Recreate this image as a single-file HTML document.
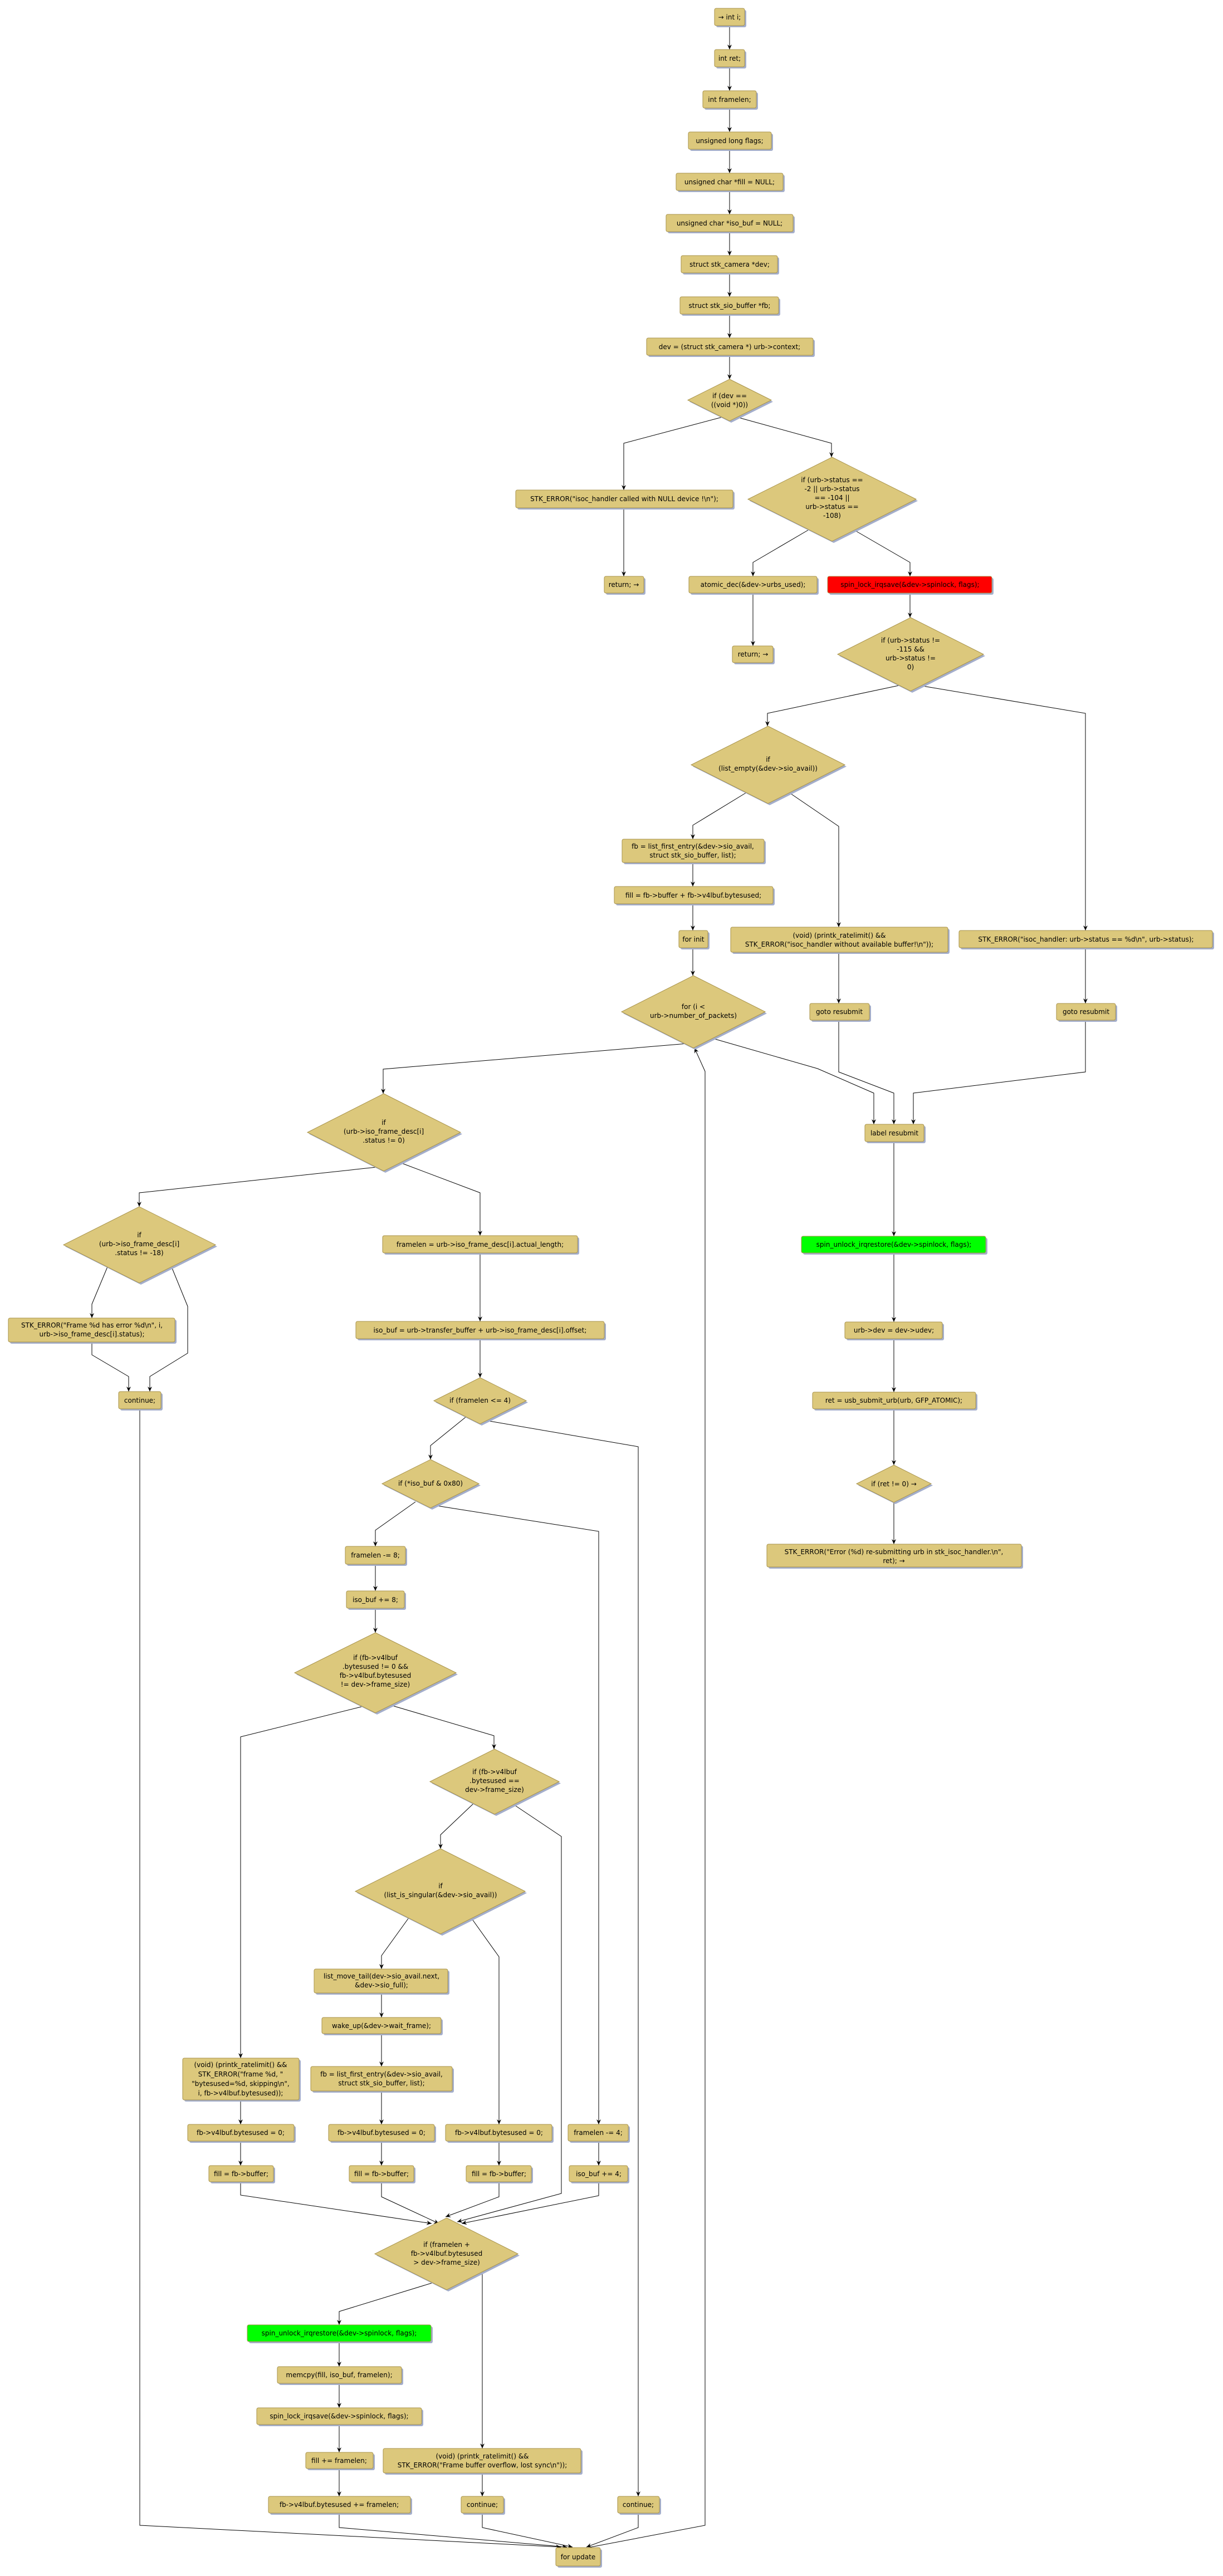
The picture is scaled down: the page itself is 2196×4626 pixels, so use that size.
<!DOCTYPE html>
<html><head><meta charset="utf-8"><style>
html,body{margin:0;padding:0;background:#fff;}
svg{display:block;}
text{font-family:"DejaVu Sans","Liberation Sans",sans-serif;font-size:12px;fill:#000;text-anchor:middle;}
.b{fill:#dcc87c;stroke:#a8934c;stroke-width:1;}
.s{fill:#a4aecb;stroke:none;}
.e{fill:none;stroke:#000;stroke-width:1;marker-end:url(#a);}
.n{fill:none;stroke:#000;stroke-width:1;}
</style></head><body>
<svg width="2196" height="4626" viewBox="0 0 2196 4626" xmlns="http://www.w3.org/2000/svg">
<defs><marker id="a" markerWidth="10" markerHeight="10" refX="9" refY="4" orient="auto" markerUnits="userSpaceOnUse"><path d="M0,0 L9,4 L0,8 L3,4 Z" fill="#000"/></marker></defs>

<g id="edges">
<polyline class="e" points="1310,46 1310,89"/>
<polyline class="e" points="1310,120 1310,163"/>
<polyline class="e" points="1310,194 1310,237"/>
<polyline class="e" points="1310,268 1310,311"/>
<polyline class="e" points="1310,342 1310,385"/>
<polyline class="e" points="1310,416 1310,459"/>
<polyline class="e" points="1310,490 1310,533"/>
<polyline class="e" points="1310,564 1310,607"/>
<polyline class="e" points="1310,638 1310,681"/>
<polyline class="e" points="1297,749 1120,796 1120,880"/>
<polyline class="e" points="1323,749 1493,796 1493,821"/>
<polyline class="e" points="1120,912 1120,1035"/>
<polyline class="e" points="1451,952 1352,1010 1352,1035"/>
<polyline class="e" points="1534,952 1634,1010 1634,1035"/>
<polyline class="e" points="1352,1065 1352,1160"/>
<polyline class="e" points="1634,1065 1634,1109"/>
<polyline class="e" points="1614,1231 1378,1281 1378,1304"/>
<polyline class="e" points="1651,1231 1949,1281 1949,1671"/>
<polyline class="e" points="1339,1424 1244,1482 1244,1507"/>
<polyline class="e" points="1418,1424 1506,1484 1506,1665"/>
<polyline class="e" points="1244,1549 1244,1592"/>
<polyline class="e" points="1244,1623 1244,1671"/>
<polyline class="e" points="1244,1702 1244,1752"/>
<polyline class="e" points="1506,1710 1506,1802"/>
<polyline class="e" points="1949,1702 1949,1802"/>
<polyline class="e" points="1277,1864 1468,1919 1569,1963 1569,2019"/>
<polyline class="e" points="1506,1832 1506,1925 1605,1963 1605,2019"/>
<polyline class="e" points="1949,1832 1949,1925 1640,1963 1640,2019"/>
<polyline class="e" points="1605,2050 1605,2220"/>
<polyline class="e" points="1605,2250 1605,2374"/>
<polyline class="e" points="1605,2404 1605,2500"/>
<polyline class="e" points="1605,2530 1605,2631"/>
<polyline class="e" points="1605,2698 1605,2773"/>
<polyline class="e" points="1234,1874 688,1920 688,1964"/>
<polyline class="e" points="1061,4574 1266,4535 1266,1924 1247,1882"/>
<polyline class="e" points="676,2096 250,2142 250,2167"/>
<polyline class="e" points="719,2088 862,2142 862,2219"/>
<polyline class="e" points="193,2275 165,2342 165,2367"/>
<polyline class="e" points="308,2275 337,2346 337,2430 269,2472 269,2499"/>
<polyline class="e" points="165,2410 165,2433 231,2472 231,2499"/>
<polyline class="e" points="251,2530 251,4535 1007,4574"/>
<polyline class="e" points="862,2250 862,2373"/>
<polyline class="e" points="862,2404 862,2474"/>
<polyline class="e" points="873,2551 1146,2598 1146,4483"/>
<polyline class="e" points="836,2545 773,2596 773,2621"/>
<polyline class="e" points="784,2704 1075,2750 1075,3815"/>
<polyline class="e" points="746,2697 674,2748 674,2777"/>
<polyline class="e" points="674,2809 674,2857"/>
<polyline class="e" points="674,2888 674,2932"/>
<polyline class="e" points="649,3065 432,3119 432,3696"/>
<polyline class="e" points="701,3062 887,3117 887,3141"/>
<polyline class="e" points="920,3239 1008,3298 1008,3939 821,3990"/>
<polyline class="e" points="850,3239 791,3295 791,3320"/>
<polyline class="e" points="734,3444 685,3512 685,3536"/>
<polyline class="e" points="846,3444 896,3514 896,3815"/>
<polyline class="e" points="685,3579 685,3623"/>
<polyline class="e" points="685,3652 685,3711"/>
<polyline class="e" points="685,3755 685,3815"/>
<polyline class="e" points="685,3845 685,3889"/>
<polyline class="e" points="432,3771 432,3815"/>
<polyline class="e" points="432,3845 432,3889"/>
<polyline class="e" points="896,3845 896,3889"/>
<polyline class="e" points="1075,3845 1075,3889"/>
<polyline class="e" points="432,3918 432,3942 775,3993"/>
<polyline class="e" points="685,3918 685,3945 788,3993"/>
<polyline class="e" points="896,3918 896,3945 800,3981"/>
<polyline class="e" points="1075,3918 1075,3943 829,3993"/>
<polyline class="e" points="775,4100 609,4151 609,4175"/>
<polyline class="e" points="866,4078 866,4397"/>
<polyline class="e" points="609,4205 609,4250"/>
<polyline class="e" points="609,4280 609,4324"/>
<polyline class="e" points="609,4354 609,4404"/>
<polyline class="e" points="609,4433 609,4483"/>
<polyline class="e" points="866,4441 866,4483"/>
<polyline class="e" points="609,4513 609,4539 1018,4574"/>
<polyline class="e" points="866,4513 866,4539 1028,4574"/>
<polyline class="e" points="1146,4513 1146,4539 1053,4574"/>
</g>

<g id="nodes">
<!-- boxes: shadow then box -->
<rect class="s" x="1286" y="18" width="54" height="31" rx="3"/><rect class="b" x="1283" y="15" width="54" height="31" rx="3"/><text x="1310" y="35">→ int i;</text>
<rect class="s" x="1286" y="92" width="54" height="31" rx="3"/><rect class="b" x="1283" y="89" width="54" height="31" rx="3"/><text x="1310" y="109">int ret;</text>
<rect class="s" x="1265" y="166" width="96" height="31" rx="3"/><rect class="b" x="1262" y="163" width="96" height="31" rx="3"/><text x="1310" y="183">int framelen;</text>
<rect class="s" x="1239" y="240" width="149" height="31" rx="3"/><rect class="b" x="1236" y="237" width="149" height="31" rx="3"/><text x="1310" y="257">unsigned long flags;</text>
<rect class="s" x="1217" y="314" width="192" height="31" rx="3"/><rect class="b" x="1214" y="311" width="192" height="31" rx="3"/><text x="1310" y="331">unsigned char *fill = NULL;</text>
<rect class="s" x="1199" y="388" width="228" height="31" rx="3"/><rect class="b" x="1196" y="385" width="228" height="31" rx="3"/><text x="1310" y="405">unsigned char *iso_buf = NULL;</text>
<rect class="s" x="1226" y="462" width="173" height="31" rx="3"/><rect class="b" x="1223" y="459" width="173" height="31" rx="3"/><text x="1310" y="479">struct stk_camera *dev;</text>
<rect class="s" x="1224" y="536" width="177" height="31" rx="3"/><rect class="b" x="1221" y="533" width="177" height="31" rx="3"/><text x="1310" y="553">struct stk_sio_buffer *fb;</text>
<rect class="s" x="1164" y="610" width="299" height="31" rx="3"/><rect class="b" x="1161" y="607" width="299" height="31" rx="3"/><text x="1310" y="627">dev = (struct stk_camera *) urb-&gt;context;</text>

<polygon class="s" points="1313,684 1388,721.5 1313,759 1238,721.5"/><polygon class="b" points="1310,681 1385,718.5 1310,756 1235,718.5"/>
<text x="1310" y="715">if (dev ==</text><text x="1310" y="731">((void *)0))</text>

<rect class="s" x="929" y="883" width="390" height="32" rx="3"/><rect class="b" x="926" y="880" width="390" height="32" rx="3"/><text x="1121" y="900">STK_ERROR("isoc_handler called with NULL device !\n");</text>
<rect class="s" x="1088" y="1038" width="71" height="30" rx="3"/><rect class="b" x="1085" y="1035" width="71" height="30" rx="3"/><text x="1120" y="1054">return; →</text>

<polygon class="s" points="1497,824 1648,899.5 1497,975 1346,899.5"/><polygon class="b" points="1494,821 1645,896.5 1494,972 1343,896.5"/>
<text x="1494" y="866">if (urb-&gt;status ==</text><text x="1494" y="882">-2 || urb-&gt;status</text><text x="1494" y="898">== -104 ||</text><text x="1494" y="914">urb-&gt;status ==</text><text x="1494" y="930">-108)</text>

<rect class="s" x="1240" y="1038" width="230" height="30" rx="3"/><rect class="b" x="1237" y="1035" width="230" height="30" rx="3"/><text x="1352" y="1054">atomic_dec(&amp;dev-&gt;urbs_used);</text>
<rect class="s" x="1489" y="1038" width="295" height="30" rx="3"/><rect fill="#ff0000" stroke="#a8934c" x="1486" y="1035" width="295" height="30" rx="3"/><text x="1634" y="1054">spin_lock_irqsave(&amp;dev-&gt;spinlock, flags);</text>
<rect class="s" x="1318" y="1163" width="73" height="30" rx="3"/><rect class="b" x="1315" y="1160" width="73" height="30" rx="3"/><text x="1352" y="1179">return; →</text>

<polygon class="s" points="1638,1112 1769,1178 1638,1244 1507,1178"/><polygon class="b" points="1635,1109 1766,1175 1635,1241 1504,1175"/>
<text x="1635" y="1154">if (urb-&gt;status !=</text><text x="1635" y="1170">-115 &amp;&amp;</text><text x="1635" y="1186">urb-&gt;status !=</text><text x="1635" y="1202">0)</text>

<polygon class="s" points="1382,1307 1520,1376.5 1382,1446 1244,1376.5"/><polygon class="b" points="1379,1304 1517,1373.5 1379,1443 1241,1373.5"/>
<text x="1379" y="1368">if</text><text x="1379" y="1384">(list_empty(&amp;dev-&gt;sio_avail))</text>

<rect class="s" x="1120" y="1510" width="255" height="42" rx="3"/><rect class="b" x="1117" y="1507" width="255" height="42" rx="3"/><text x="1244" y="1524">fb = list_first_entry(&amp;dev-&gt;sio_avail,</text><text x="1244" y="1540">struct stk_sio_buffer, list);</text>
<rect class="s" x="1106" y="1595" width="285" height="31" rx="3"/><rect class="b" x="1103" y="1592" width="285" height="31" rx="3"/><text x="1245" y="1612">fill = fb-&gt;buffer + fb-&gt;v4lbuf.bytesused;</text>
<rect class="s" x="1222" y="1674" width="52" height="31" rx="3"/><rect class="b" x="1219" y="1671" width="52" height="31" rx="3"/><text x="1245" y="1691">for init</text>
<rect class="s" x="1315" y="1668" width="390" height="45" rx="3"/><rect class="b" x="1312" y="1665" width="390" height="45" rx="3"/><text x="1507" y="1684">(void) (printk_ratelimit() &amp;&amp;</text><text x="1507" y="1700">STK_ERROR("isoc_handler without available buffer!\n"));</text>
<rect class="s" x="1725" y="1674" width="455" height="31" rx="3"/><rect class="b" x="1722" y="1671" width="455" height="31" rx="3"/><text x="1950" y="1691">STK_ERROR("isoc_handler: urb-&gt;status == %d\n", urb-&gt;status);</text>

<polygon class="s" points="1248,1755 1377,1820 1248,1885 1119,1820"/><polygon class="b" points="1245,1752 1374,1817 1245,1882 1116,1817"/>
<text x="1245" y="1812">for (i &lt;</text><text x="1245" y="1828">urb-&gt;number_of_packets)</text>

<rect class="s" x="1457" y="1805" width="107" height="30" rx="3"/><rect class="b" x="1454" y="1802" width="107" height="30" rx="3"/><text x="1507" y="1821">goto resubmit</text>
<rect class="s" x="1900" y="1805" width="106" height="30" rx="3"/><rect class="b" x="1897" y="1802" width="106" height="30" rx="3"/><text x="1950" y="1821">goto resubmit</text>
<rect class="s" x="1556" y="2022" width="106" height="31" rx="3"/><rect class="b" x="1553" y="2019" width="106" height="31" rx="3"/><text x="1606" y="2039">label resubmit</text>
<rect class="s" x="1442" y="2223" width="331" height="30" rx="3"/><rect fill="#00ff00" stroke="#a8934c" x="1439" y="2220" width="331" height="30" rx="3"/><text x="1605" y="2239">spin_unlock_irqrestore(&amp;dev-&gt;spinlock, flags);</text>
<rect class="s" x="1520" y="2377" width="175" height="30" rx="3"/><rect class="b" x="1517" y="2374" width="175" height="30" rx="3"/><text x="1605" y="2393">urb-&gt;dev = dev-&gt;udev;</text>
<rect class="s" x="1462" y="2503" width="293" height="30" rx="3"/><rect class="b" x="1459" y="2500" width="293" height="30" rx="3"/><text x="1605" y="2519">ret = usb_submit_urb(urb, GFP_ATOMIC);</text>
<polygon class="s" points="1608,2634 1675,2667.5 1608,2701 1541,2667.5"/><polygon class="b" points="1605,2631 1672,2664.5 1605,2698 1538,2664.5"/>
<text x="1605" y="2669">if (ret != 0) →</text>
<rect class="s" x="1380" y="2776" width="457" height="41" rx="3"/><rect class="b" x="1377" y="2773" width="457" height="41" rx="3"/><text x="1605" y="2791">STK_ERROR("Error (%d) re-submitting urb in stk_isoc_handler.\n",</text><text x="1605" y="2807">ret); →</text>

<polygon class="s" points="692,1967 830,2036.5 692,2106 555,2036.5"/><polygon class="b" points="689,1964 827,2033.5 689,2103 552,2033.5"/>
<text x="689" y="2020">if</text><text x="689" y="2036">(urb-&gt;iso_frame_desc[i]</text><text x="689" y="2052">.status != 0)</text>

<polygon class="s" points="253,2170 390,2238.5 253,2307 117,2238.5"/><polygon class="b" points="250,2167 387,2235.5 250,2304 114,2235.5"/>
<text x="250" y="2222">if</text><text x="250" y="2238">(urb-&gt;iso_frame_desc[i]</text><text x="250" y="2254">.status != -18)</text>

<rect class="s" x="18" y="2370" width="299" height="43" rx="3"/><rect class="b" x="15" y="2367" width="299" height="43" rx="3"/><text x="165" y="2384">STK_ERROR("Frame %d has error %d\n", i,</text><text x="165" y="2400">urb-&gt;iso_frame_desc[i].status);</text>
<rect class="s" x="216" y="2502" width="76" height="31" rx="3"/><rect class="b" x="213" y="2499" width="76" height="31" rx="3"/><text x="251" y="2519">continue;</text>

<rect class="s" x="690" y="2222" width="350" height="31" rx="3"/><rect class="b" x="687" y="2219" width="350" height="31" rx="3"/><text x="862" y="2239">framelen = urb-&gt;iso_frame_desc[i].actual_length;</text>
<rect class="s" x="642" y="2376" width="446" height="31" rx="3"/><rect class="b" x="639" y="2373" width="446" height="31" rx="3"/><text x="862" y="2393">iso_buf = urb-&gt;transfer_buffer + urb-&gt;iso_frame_desc[i].offset;</text>

<polygon class="s" points="865,2477 948,2518.5 865,2560 782,2518.5"/><polygon class="b" points="862,2474 945,2515.5 862,2557 779,2515.5"/>
<text x="862" y="2519">if (framelen &lt;= 4)</text>
<polygon class="s" points="776,2624 863,2667.5 776,2711 689,2667.5"/><polygon class="b" points="773,2621 860,2664.5 773,2708 686,2664.5"/>
<text x="773" y="2668">if (*iso_buf &amp; 0x80)</text>

<rect class="s" x="623" y="2780" width="108" height="32" rx="3"/><rect class="b" x="620" y="2777" width="108" height="32" rx="3"/><text x="674" y="2797">framelen -= 8;</text>
<rect class="s" x="625" y="2860" width="104" height="31" rx="3"/><rect class="b" x="622" y="2857" width="104" height="31" rx="3"/><text x="674" y="2877">iso_buf += 8;</text>

<polygon class="s" points="677,2935 822,3007 677,3079 532,3007"/><polygon class="b" points="674,2932 819,3004 674,3076 529,3004"/>
<text x="674" y="2981">if (fb-&gt;v4lbuf</text><text x="674" y="2997">.bytesused != 0 &amp;&amp;</text><text x="674" y="3013">fb-&gt;v4lbuf.bytesused</text><text x="674" y="3029">!= dev-&gt;frame_size)</text>

<polygon class="s" points="891,3144 1007,3202.5 891,3261 775,3202.5"/><polygon class="b" points="888,3141 1004,3199.5 888,3258 772,3199.5"/>
<text x="888" y="3186">if (fb-&gt;v4lbuf</text><text x="888" y="3202">.bytesused ==</text><text x="888" y="3218">dev-&gt;frame_size)</text>

<polygon class="s" points="794,3323 946,3399.5 794,3476 641,3399.5"/><polygon class="b" points="791,3320 943,3396.5 791,3473 638,3396.5"/>
<text x="791" y="3391">if</text><text x="791" y="3407">(list_is_singular(&amp;dev-&gt;sio_avail))</text>

<rect class="s" x="567" y="3539" width="240" height="43" rx="3"/><rect class="b" x="564" y="3536" width="240" height="43" rx="3"/><text x="685" y="3553">list_move_tail(dev-&gt;sio_avail.next,</text><text x="685" y="3569">&amp;dev-&gt;sio_full);</text>
<rect class="s" x="581" y="3626" width="214" height="29" rx="3"/><rect class="b" x="578" y="3623" width="214" height="29" rx="3"/><text x="685" y="3642">wake_up(&amp;dev-&gt;wait_frame);</text>
<rect class="s" x="561" y="3714" width="254" height="44" rx="3"/><rect class="b" x="558" y="3711" width="254" height="44" rx="3"/><text x="685" y="3729">fb = list_first_entry(&amp;dev-&gt;sio_avail,</text><text x="685" y="3745">struct stk_sio_buffer, list);</text>
<rect class="s" x="331" y="3699" width="209" height="75" rx="3"/><rect class="b" x="328" y="3696" width="209" height="75" rx="3"/><text x="432" y="3712">(void) (printk_ratelimit() &amp;&amp;</text><text x="432" y="3729">STK_ERROR("frame %d, "</text><text x="432" y="3746">"bytesused=%d, skipping\n",</text><text x="432" y="3763">i, fb-&gt;v4lbuf.bytesused));</text>

<rect class="s" x="340" y="3818" width="191" height="30" rx="3"/><rect class="b" x="337" y="3815" width="191" height="30" rx="3"/><text x="432" y="3834">fb-&gt;v4lbuf.bytesused = 0;</text>
<rect class="s" x="593" y="3818" width="190" height="30" rx="3"/><rect class="b" x="590" y="3815" width="190" height="30" rx="3"/><text x="685" y="3834">fb-&gt;v4lbuf.bytesused = 0;</text>
<rect class="s" x="803" y="3818" width="191" height="30" rx="3"/><rect class="b" x="800" y="3815" width="191" height="30" rx="3"/><text x="896" y="3834">fb-&gt;v4lbuf.bytesused = 0;</text>
<rect class="s" x="1023" y="3818" width="108" height="30" rx="3"/><rect class="b" x="1020" y="3815" width="108" height="30" rx="3"/><text x="1074" y="3834">framelen -= 4;</text>
<rect class="s" x="378" y="3892" width="116" height="29" rx="3"/><rect class="b" x="375" y="3889" width="116" height="29" rx="3"/><text x="433" y="3908">fill = fb-&gt;buffer;</text>
<rect class="s" x="630" y="3892" width="116" height="29" rx="3"/><rect class="b" x="627" y="3889" width="116" height="29" rx="3"/><text x="685" y="3908">fill = fb-&gt;buffer;</text>
<rect class="s" x="840" y="3892" width="117" height="29" rx="3"/><rect class="b" x="837" y="3889" width="117" height="29" rx="3"/><text x="896" y="3908">fill = fb-&gt;buffer;</text>
<rect class="s" x="1025" y="3892" width="105" height="29" rx="3"/><rect class="b" x="1022" y="3889" width="105" height="29" rx="3"/><text x="1075" y="3908">iso_buf += 4;</text>

<polygon class="s" points="805,3986 933,4050.5 805,4115 676,4050.5"/><polygon class="b" points="802,3983 930,4047.5 802,4112 673,4047.5"/>
<text x="802" y="4035">if (framelen +</text><text x="802" y="4051">fb-&gt;v4lbuf.bytesused</text><text x="802" y="4067">&gt; dev-&gt;frame_size)</text>

<rect class="s" x="447" y="4178" width="330" height="30" rx="3"/><rect fill="#00ff00" stroke="#a8934c" x="444" y="4175" width="330" height="30" rx="3"/><text x="609" y="4194">spin_unlock_irqrestore(&amp;dev-&gt;spinlock, flags);</text>
<rect class="s" x="501" y="4253" width="223" height="30" rx="3"/><rect class="b" x="498" y="4250" width="223" height="30" rx="3"/><text x="609" y="4269">memcpy(fill, iso_buf, framelen);</text>
<rect class="s" x="464" y="4327" width="296" height="30" rx="3"/><rect class="b" x="461" y="4324" width="296" height="30" rx="3"/><text x="609" y="4343">spin_lock_irqsave(&amp;dev-&gt;spinlock, flags);</text>
<rect class="s" x="552" y="4407" width="121" height="29" rx="3"/><rect class="b" x="549" y="4404" width="121" height="29" rx="3"/><text x="609" y="4423">fill += framelen;</text>
<rect class="s" x="485" y="4486" width="255" height="30" rx="3"/><rect class="b" x="482" y="4483" width="255" height="30" rx="3"/><text x="609" y="4502">fb-&gt;v4lbuf.bytesused += framelen;</text>
<rect class="s" x="691" y="4400" width="355" height="44" rx="3"/><rect class="b" x="688" y="4397" width="355" height="44" rx="3"/><text x="866" y="4415">(void) (printk_ratelimit() &amp;&amp;</text><text x="866" y="4431">STK_ERROR("Frame buffer overflow, lost sync\n"));</text>
<rect class="s" x="831" y="4486" width="76" height="30" rx="3"/><rect class="b" x="828" y="4483" width="76" height="30" rx="3"/><text x="866" y="4502">continue;</text>
<rect class="s" x="1112" y="4486" width="75" height="30" rx="3"/><rect class="b" x="1109" y="4483" width="75" height="30" rx="3"/><text x="1146" y="4502">continue;</text>
<rect class="s" x="1001" y="4578" width="80" height="33" rx="3"/><rect class="b" x="998" y="4575" width="80" height="33" rx="3"/><text x="1038" y="4596">for update</text>
</g>
</svg>
</body></html>
